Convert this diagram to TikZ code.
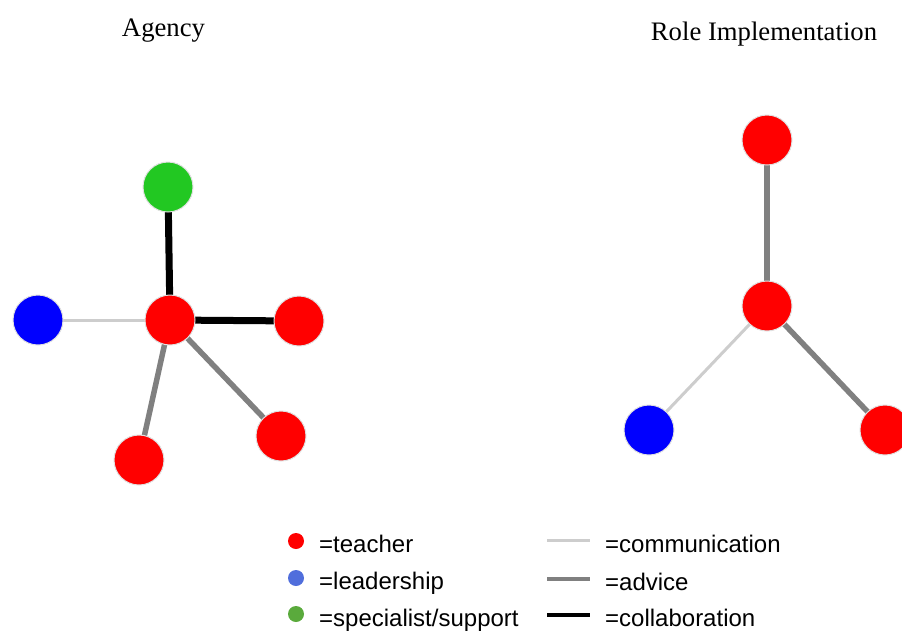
\documentclass[tikz,border=0pt]{standalone}
\usepackage{fontspec}
\setmainfont{Liberation Serif}
\newfontfamily\legendfont{Liberation Sans}
\usetikzlibrary{backgrounds}
\definecolor{tred}{RGB}{255,0,0}
\definecolor{lblue}{RGB}{0,0,255}
\definecolor{sgreen}{RGB}{34,200,34}
\definecolor{lgtblue}{RGB}{80,110,220}
\definecolor{lgtgreen}{RGB}{90,170,60}
\definecolor{commcol}{RGB}{205,205,205}
\definecolor{advcol}{RGB}{128,128,128}
\tikzset{
  member/.style={circle, minimum size=50pt, inner sep=0pt, draw=white!88!black, line width=1pt},
  teacher/.style={member, fill=tred},
  leader/.style={member, fill=lblue},
  specialist/.style={member, fill=sgreen},
  comm/.style={draw=commcol, line width=3pt},
  advice/.style={draw=advcol, line width=5.5pt},
  collab/.style={draw=black, line width=7pt},
  title/.style={font=\fontsize{26.7}{30}\selectfont, anchor=base},
  legtext/.style={font=\legendfont\fontsize{24}{28}\selectfont, anchor=base west, inner sep=0pt},
  legdot/.style={circle, minimum size=16pt, inner sep=0pt}
}
\begin{document}
\begin{tikzpicture}[x=1pt,y=-1pt]
\useasboundingbox (0,0) rectangle (902,630);
\clip (0,0) rectangle (902,630);
% titles
\node[title] (tA) at (163.5,36) {Agency};
\node[title] (tR) at (764,40) {Role Implementation};
% Agency graph
\node[teacher] (ac) at (170,320) {};
\node[specialist] (ag) at (168,187) {};
\node[leader] (ab) at (38,320) {};
\node[teacher] (ar) at (299,321) {};
\node[teacher] (abl) at (139,460) {};
\node[teacher] (abr) at (281,436) {};
% Role graph
\node[teacher] (rc) at (767,306) {};
\node[teacher] (rt) at (767,140) {};
\node[leader] (rb) at (649,430) {};
\node[teacher] (rr) at (885,430) {};
\begin{pgfonlayer}{background}
\draw[collab] (ac.center) -- (ag.center);
\draw[collab] (ac.center) -- (ar.center);
\draw[comm] (ac.center) -- (ab.center);
\draw[advice] (ac.center) -- (abl.center);
\draw[advice] (ac.center) -- (abr.center);
\draw[advice] (rc.center) -- (rt.center);
\draw[comm] (rc.center) -- (rb.center);
\draw[advice] (rc.center) -- (rr.center);
\end{pgfonlayer}
% legend
\node[legdot, fill=tred] (d1) at (296,541) {};
\node[legdot, fill=lgtblue] (d2) at (296,578) {};
\node[legdot, fill=lgtgreen] (d3) at (296,614) {};
\node[legtext] (l1) at (319,552) {=teacher};
\node[legtext] (l2) at (319,589) {=leadership};
\node[legtext] (l3) at (319,626) {=specialist/support};
\coordinate (c1a) at (547,540);
\coordinate (c1b) at (590,540);
\coordinate (c2a) at (547,579);
\coordinate (c2b) at (590,579);
\coordinate (c3a) at (547,615);
\coordinate (c3b) at (590,615);
\draw[draw=commcol, line width=3pt] (c1a) -- (c1b);
\draw[draw=advcol, line width=4.5pt] (c2a) -- (c2b);
\draw[draw=black, line width=4.5pt] (c3a) -- (c3b);
\node[legtext] (l4) at (605,552) {=communication};
\node[legtext] (l5) at (605,590) {=advice};
\node[legtext] (l6) at (605,626) {=collaboration};
\end{tikzpicture}
\end{document}
